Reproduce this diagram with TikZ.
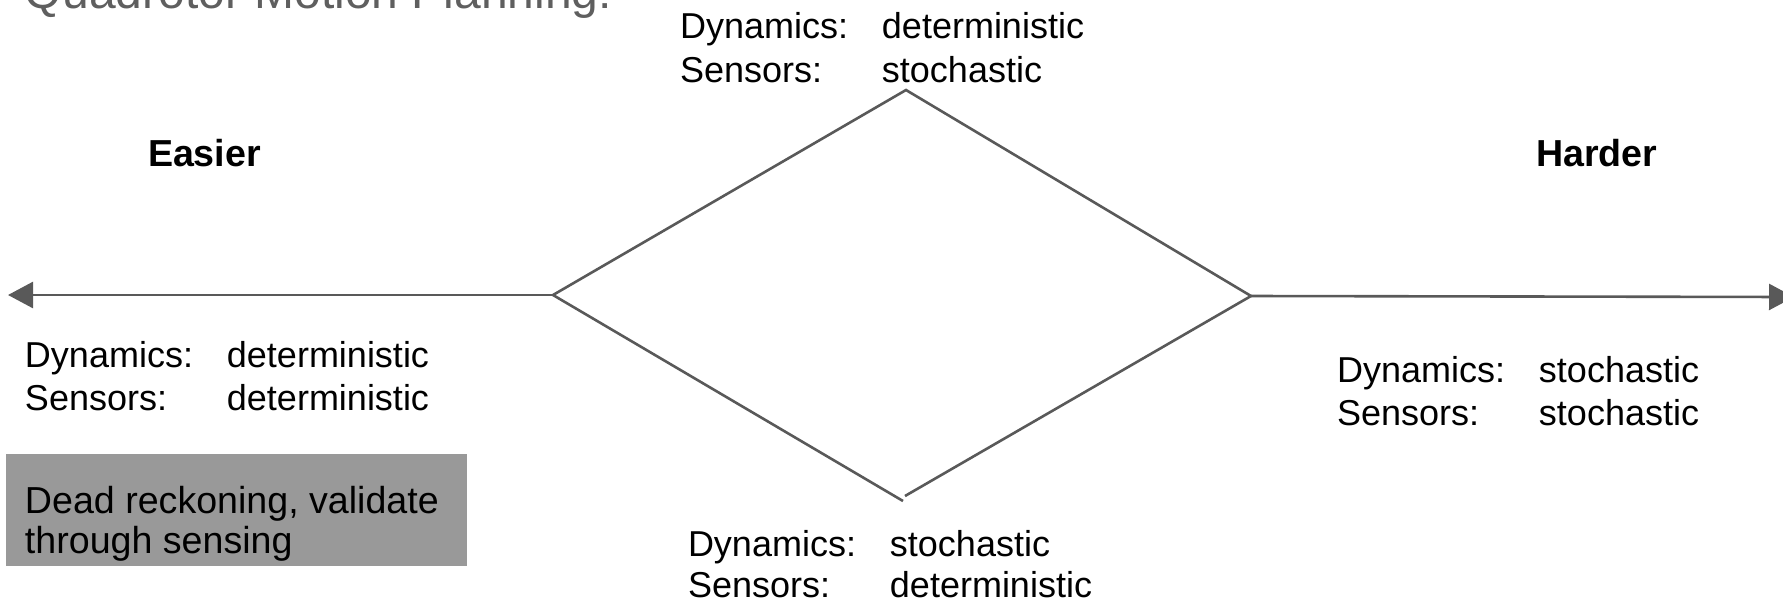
\documentclass[tikz,border=0pt]{standalone}
\usepackage{fontspec}
\setmainfont{Liberation Sans}
\usetikzlibrary{arrows.meta}
\definecolor{linegray}{RGB}{89,89,89}
\definecolor{titlegray}{RGB}{95,95,95}
\definecolor{boxgray}{RGB}{153,153,153}
% label/value pair with the value in a fixed column
\newcommand\kvpair[2]{\makebox[101pt][l]{#1}#2}
\begin{document}
\begin{tikzpicture}[x=0.5pt,y=-0.5pt,
  every node/.style={inner sep=0pt, outer sep=0pt},
  bodytext/.style={anchor=base west, font=\fontsize{18}{21.6}\selectfont},
  notetext/.style={anchor=base west, font=\fontsize{18.8}{22.6}\selectfont},
  endlabel/.style={anchor=base west, font=\fontsize{18.8}{22.6}\selectfont\bfseries},
  titletext/.style={anchor=base west, text=titlegray, font=\fontsize{24}{28.8}\selectfont},
  edge/.style={draw=linegray, line width=1.3pt},
  axisarrow/.style={edge, -{Triangle[length=12.5pt,width=13pt]}},
  notebox/.style={fill=boxgray, draw=none}
]
\useasboundingbox (0,0) rectangle (1783,601);

% title, partly above the page
\node[titletext] (title) at (25,8) {Quadrotor Motion Planning:};

% ends of the difficulty axis
\node[endlabel] (easier) at (148,166) {Easier};
\node[endlabel] (harder) at (1536,166) {Harder};

% diamond corners and axis tips
\coordinate (L) at (553,295);
\coordinate (T) at (906,90);
\coordinate (R) at (1251,296);
\coordinate (Bl) at (903,501);
\coordinate (Br) at (905,496);
\coordinate (tipL) at (8,295);
\coordinate (tipR) at (1794,297);

\draw[axisarrow] (L) -- (tipL);
\draw[axisarrow] (R) -- (tipR);
\draw[edge] (Bl) -- (L) -- (T) -- (R) -- (Br);

% top corner
\node[bodytext] (topdyn) at (680,38) {\kvpair{Dynamics:}{deterministic}};
\node[bodytext] (topsens) at (680,82) {\kvpair{Sensors:}{stochastic}};

% left corner
\node[bodytext] (leftdyn) at (25,367) {\kvpair{Dynamics:}{deterministic}};
\node[bodytext] (leftsens) at (25,410) {\kvpair{Sensors:}{deterministic}};

% right corner
\node[bodytext] (rightdyn) at (1337,382) {\kvpair{Dynamics:}{stochastic}};
\node[bodytext] (rightsens) at (1337,425) {\kvpair{Sensors:}{stochastic}};

% bottom corner
\node[bodytext] (botdyn) at (688,556) {\kvpair{Dynamics:}{stochastic}};
\node[bodytext] (botsens) at (688,597) {\kvpair{Sensors:}{deterministic}};

% note box
\fill[notebox] (6,454) rectangle (467,566);
\node[notetext] (note1) at (25,513) {Dead reckoning, validate};
\node[notetext] (note2) at (25,553) {through sensing};
\end{tikzpicture}
\end{document}
